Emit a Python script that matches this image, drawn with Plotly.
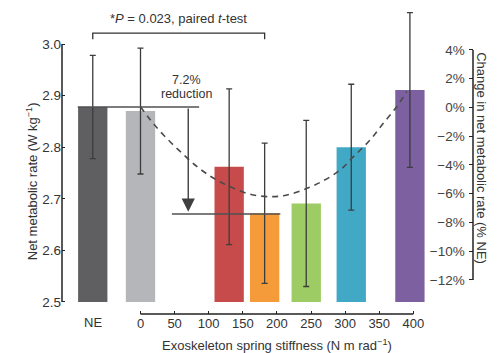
import plotly.graph_objects as go

# ---- data ----
bar_labels = ["NE", "0", "130", "182", "243", "309", "395"]
bar_x = [-70, 0, 130, 182, 243, 309, 395]
bar_values = [2.878, 2.870, 2.762, 2.672, 2.691, 2.800, 2.911]
bar_errors = [0.100, 0.122, 0.151, 0.136, 0.161, 0.122, 0.150]
bar_colors = ["#5f5f61", "#b5b6ba", "#c84b4b", "#f59b3a", "#9dcb64", "#41a9c6", "#7d60a0"]

curve_x = [0, 14.6, 33.7, 58.5, 83, 107.3, 131.7, 161, 190.3, 214.7, 244,
           268.3, 292.7, 312.2, 336.6, 356, 375.7, 390.3]
curve_y = [2.8785, 2.8527, 2.8236, 2.7913, 2.7622, 2.7397, 2.7234, 2.7087,
           2.7041, 2.7074, 2.7203, 2.7351, 2.7558, 2.7816, 2.8140, 2.8463,
           2.8785, 2.9076]

x_ticks = [0, 50, 100, 150, 200, 250, 300, 350, 400]
left_ticks = [2.5, 2.6, 2.7, 2.8, 2.9, 3.0]
left_tick_labels = ["2.5", "2.6", "2.7", "2.8", "2.9", "3.0"]
right_ticks = [-12, -10, -8, -6, -4, -2, 0, 2, 4]
right_tick_labels = ["\u221212%", "\u221210%", "\u22128%", "\u22126%", "\u22124%",
                     "\u22122%", "0%", "2%", "4%"]

bracket_x = [-70, -70, 182, 182]
bracket_y = [3.009, 3.021, 3.021, 3.009]
upper_line_x = [-92, 86]
upper_line_y = [2.878, 2.878]
lower_line_x = [46, 205]
lower_line_y = [2.6705, 2.6705]
arrow_x = 70
arrow_from = 2.878
arrow_to = 2.675

FONT = "Liberation Sans, Arial, sans-serif"
TXT = "#333333"

fig = go.Figure()

fig.add_trace(go.Bar(
    x=bar_x, y=[v - 2.5 for v in bar_values], base=2.5, width=43,
    marker=dict(color=bar_colors, line=dict(width=0)),
    error_y=dict(type="data", array=bar_errors, color="#3c3c3c",
                 thickness=1.3, width=3),
    hoverinfo="skip", showlegend=False,
))

fig.add_trace(go.Scatter(
    x=curve_x, y=curve_y, mode="lines", line=dict(color="#4a4a4a", width=1.6,
    dash="6px,5px", shape="spline"), hoverinfo="skip", showlegend=False))

for lx, ly in [(upper_line_x, upper_line_y), (lower_line_x, lower_line_y)]:
    fig.add_trace(go.Scatter(x=lx, y=ly, mode="lines",
                             line=dict(color="#505050", width=1.5),
                             hoverinfo="skip", showlegend=False))

fig.add_trace(go.Scatter(x=bracket_x, y=bracket_y, mode="lines",
                         line=dict(color="#333333", width=1.3),
                         hoverinfo="skip", showlegend=False))

# invisible trace to activate right axis
fig.add_trace(go.Scatter(x=bar_x, y=[(v / bar_values[0] - 1) * 100 for v in bar_values],
                         yaxis="y2", mode="markers", marker=dict(opacity=0),
                         hoverinfo="skip", showlegend=False))

# arrow
fig.add_annotation(x=arrow_x, y=arrow_to, ax=arrow_x, ay=arrow_from, axref="x", ayref="y",
                   xref="x", yref="y", text="", showarrow=True, arrowhead=2,
                   arrowsize=1.9, arrowwidth=1.4, arrowcolor="#404040", standoff=0)

fig.add_annotation(x=68, y=2.9295, xref="x", yref="y", text="7.2%", showarrow=False,
                   font=dict(family=FONT, size=12.5, color=TXT))
fig.add_annotation(x=68, y=2.9025, xref="x", yref="y", text="reduction", showarrow=False,
                   font=dict(family=FONT, size=12.5, color=TXT))
fig.add_annotation(x=56, y=3.049, xref="x", yref="y",
                   text="*<i>P</i> = 0.023, paired <i>t</i>-test", showarrow=False,
                   font=dict(family=FONT, size=13, color=TXT))
fig.add_annotation(x=-70, y=-0.028, xref="x", yref="paper", text="NE", showarrow=False,
                   yanchor="middle", font=dict(family=FONT, size=13, color=TXT))

fig.add_annotation(x=0.523, y=-0.099, xref="paper", yref="paper",
                   text="Exoskeleton spring stiffness (N m rad<sup>\u22121</sup>)",
                   showarrow=False, yanchor="middle",
                   font=dict(family=FONT, size=13, color=TXT))
fig.add_annotation(x=-0.097, y=0.43, xref="paper", yref="paper", textangle=-90,
                   text="Net metabolic rate (W kg<sup>\u22121</sup>)",
                   showarrow=False, font=dict(family=FONT, size=13, color=TXT))
fig.add_annotation(x=1.042, y=0.505, xref="paper", yref="paper", textangle=90,
                   text="Change in net metabolic rate (% NE)",
                   showarrow=False, font=dict(family=FONT, size=13, color=TXT))

# axis lines
fig.add_shape(type="line", xref="paper", yref="y", x0=0, x1=0, y0=2.5, y1=3.0,
              line=dict(color="#222222", width=1.5))
fig.add_shape(type="line", xref="paper", yref="y2", x0=1, x1=1, y0=-12, y1=4,
              line=dict(color="#222222", width=1.5))
fig.add_shape(type="line", xref="x", yref="paper", x0=0, x1=400, y0=0, y1=0,
              line=dict(color="#222222", width=1.5))

fig.update_layout(
    width=497, height=353,
    margin=dict(l=62, r=24, t=5, b=39, autoexpand=False),
    plot_bgcolor="white", paper_bgcolor="white",
    font=dict(family=FONT, size=13, color=TXT),
    xaxis=dict(range=[-115.1, 487.5], tickvals=x_ticks, ticks="inside", ticklen=3,
               tickcolor="#222222", tickwidth=1.3, showline=False, showgrid=False,
               zeroline=False, automargin=False, tickfont=dict(size=13)),
    yaxis=dict(range=[2.4767, 3.0756], tickvals=left_ticks, ticktext=left_tick_labels,
               ticks="inside", ticklen=3, tickcolor="#222222", tickwidth=1.3,
               showline=False, showgrid=False, zeroline=False, automargin=False,
               tickfont=dict(size=13.5)),
    yaxis2=dict(overlaying="y", side="right", range=[-14.37, 7.13],
                tickvals=right_ticks, ticktext=right_tick_labels, ticks="inside",
                ticklen=4, tickcolor="#222222", tickwidth=1.3,
                ticklabelposition="inside", ticklabelstandoff=4, showline=False,
                showgrid=False, zeroline=False, automargin=False,
                tickfont=dict(size=13.5)),
)

fig.write_html("out.html", config={"displayModeBar": False},
               post_script="document.body.style.margin='0px';document.body.style.overflow='hidden';")
